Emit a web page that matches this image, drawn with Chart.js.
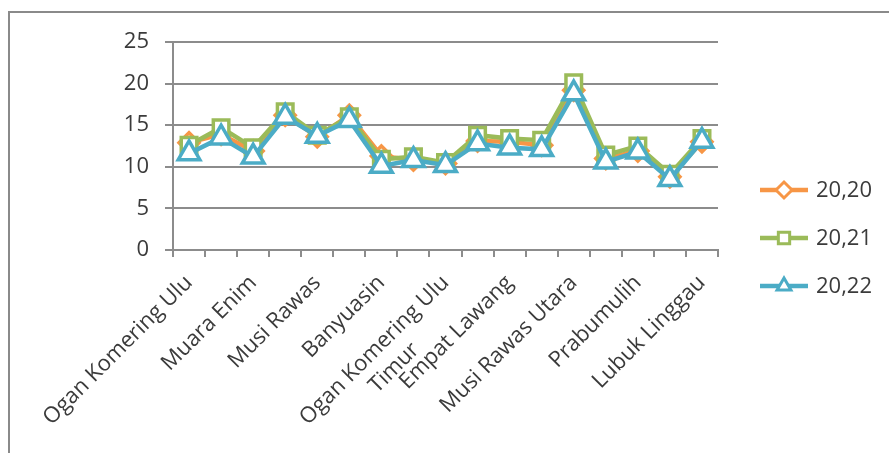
<!DOCTYPE html>
<html>
<head>
<meta charset="utf-8">
<script src="https://cdn.jsdelivr.net/npm/chart.js@4/dist/chart.umd.min.js"></script>
<style>
  html, body { margin: 0; padding: 0; background: #ffffff; }
  #wrap { position: relative; width: 889px; height: 453px; overflow: hidden; }
  #frame { position: absolute; left: 8px; top: 11px; width: 900px; height: 460px;
           border-left: 2px solid #8a8a8a; border-top: 2px solid #8a8a8a; box-sizing: border-box; }
  canvas { position: absolute; left: 0; top: 0; }
</style>
</head>
<body>
<div id="wrap">
  <div id="frame"></div>
  <canvas id="chart" width="889" height="453"></canvas>
</div>
<script>
// Kabupaten / kota, Sumatera Selatan
const categories = [
  'Ogan Komering Ulu', 'Ogan Komering Ilir', 'Muara Enim', 'Lahat',
  'Musi Rawas', 'Musi Banyuasin', 'Banyuasin', 'Ogan Komering Ulu Selatan',
  'Ogan Komering Ulu Timur', 'Ogan Ilir', 'Empat Lawang', 'Penukal Abab Lematang Ilir',
  'Musi Rawas Utara', 'Palembang', 'Prabumulih', 'Pagar Alam', 'Lubuk Linggau'
];

const seriesNames = ['20,20', '20,21', '20,22'];

const values2020 = [12.9, 13.9, 11.9, 16.2, 13.6, 16.2, 11.3, 10.8, 10.4, 13.1, 13.0, 12.6, 19.2, 11.0, 11.9, 8.8, 13.0];
const values2021 = [12.6, 14.7, 12.3, 16.6, 13.8, 16.0, 10.9, 11.2, 10.5, 13.8, 13.4, 13.2, 20.1, 11.4, 12.5, 9.1, 13.4];
const values2022 = [11.6, 13.5, 11.2, 16.0, 13.7, 15.6, 10.1, 10.8, 10.2, 12.8, 12.3, 12.1, 18.8, 10.6, 11.8, 8.5, 13.1];

const yTicks = [0, 5, 10, 15, 20, 25];

const colors = ['#F79646', '#9BBB59', '#4BACC6'];
const markers = ['rectRot', 'rect', 'triangle'];
const markerRadius = [10, 11, 12.5];

const FONT = "'Open Sans', 'DejaVu Sans', sans-serif";
const FONT_SIZE = 22;
const TEXT = '#3b3b3b';
const GRID = '#8c8c8c';

// long names break after the third word; the shorter line is padded so both lines sit centred
const measureCtx = document.createElement('canvas').getContext('2d');
function wrapLabel(s) {
  const w = s.split(' ');
  if (w.length <= 3) return s;
  const first = w.slice(0, 3).join(' ');
  let second = w.slice(3).join(' ');
  measureCtx.font = FONT_SIZE + 'px ' + FONT;
  const target = (measureCtx.measureText(first).width + measureCtx.measureText(second).width) / 2;
  while (measureCtx.measureText(second + ' ').width <= target) second += ' ';
  return [first, second];
}

const allValues = [values2020, values2021, values2022];

const datasets = allValues.map((vals, i) => ({
  label: seriesNames[i],
  data: vals,
  order: allValues.length - 1 - i,
  borderColor: colors[i],
  backgroundColor: '#ffffff',
  borderWidth: 4.5,
  pointStyle: markers[i],
  pointRadius: markerRadius[i],
  pointBorderWidth: 3.5,
  pointBorderColor: colors[i],
  pointBackgroundColor: '#ffffff',
  tension: 0,
  fill: false
}));

// legend at the right: line segment with its marker, then the series name
const sideLegend = {
  id: 'sideLegend',
  afterDraw(chart) {
    const ctx = chart.ctx;
    const area = chart.chartArea;
    const x0 = area.right + 42;
    const lineLen = 48;
    const gap = 48;
    const yStart = area.bottom - 60;
    ctx.save();
    seriesNames.forEach((name, i) => {
      const y = yStart + i * gap;
      ctx.strokeStyle = colors[i];
      ctx.lineWidth = 4.5;
      ctx.beginPath();
      ctx.moveTo(x0, y);
      ctx.lineTo(x0 + lineLen, y);
      ctx.stroke();
      ctx.fillStyle = '#ffffff';
      ctx.strokeStyle = colors[i];
      ctx.lineWidth = 3;
      Chart.helpers.drawPoint(ctx, {
        pointStyle: markers[i], rotation: 0, borderWidth: 3, radius: 8
      }, x0 + lineLen / 2, y);
      ctx.fillStyle = TEXT;
      ctx.font = FONT_SIZE + 'px ' + FONT;
      ctx.textAlign = 'left';
      ctx.textBaseline = 'middle';
      ctx.fillText(name, x0 + lineLen + 8, y + 1);
    });
    ctx.restore();
  }
};

new Chart(document.getElementById('chart'), {
  type: 'line',
  data: { labels: categories, datasets },
  plugins: [sideLegend],
  options: {
    responsive: false,
    animation: false,
    layout: { padding: { top: 42, right: 171, bottom: 0, left: 0 } },
    plugins: { legend: { display: false }, tooltip: { enabled: false } },
    scales: {
      x: {
        offset: true,
        afterFit(scale) { scale.height = 203; },
        border: { display: true, color: GRID, width: 2 },
        grid: { offset: true, drawOnChartArea: false, drawTicks: true, tickLength: 7, color: GRID, lineWidth: 2 },
        ticks: {
          autoSkip: false,
          maxRotation: 45,
          minRotation: 45,
          padding: 13,
          color: TEXT,
          font: { family: FONT, size: FONT_SIZE, lineHeight: 1.2 },
          callback(value, index) {
            return index % 2 === 0 ? wrapLabel(categories[index]) : '';
          }
        }
      },
      y: {
        min: yTicks[0],
        max: yTicks[yTicks.length - 1],
        afterFit(scale) { scale.width = 173; },
        afterBuildTicks(scale) { scale.ticks = yTicks.map(v => ({ value: v })); },
        border: { display: true, color: GRID, width: 2 },
        grid: { color: GRID, lineWidth: 2, tickLength: 8, drawTicks: true },
        ticks: {
          padding: 16,
          color: TEXT,
          font: { family: FONT, size: FONT_SIZE }
        }
      }
    }
  }
});
</script>
</body>
</html>
